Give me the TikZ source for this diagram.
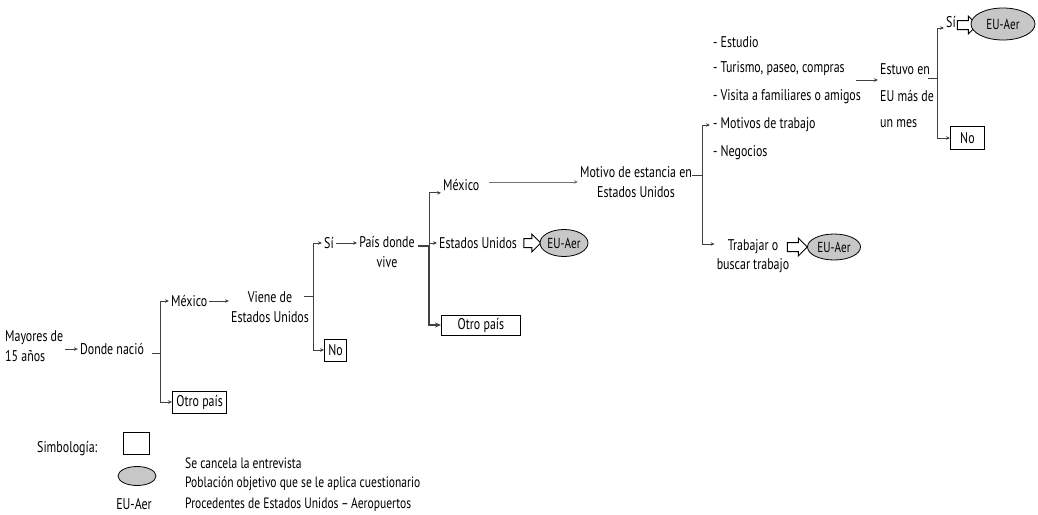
\documentclass[tikz,border=0pt]{standalone}
\usepackage{fontspec}
\setmainfont{PT Sans}[FakeStretch=0.77]
\usetikzlibrary{shapes.geometric,shapes.arrows,arrows.meta,positioning}

\newcommand\euaer{\makebox[0pt]{EU-Aer}}

\tikzset{
  txt/.style={inner sep=2pt, font=\fontsize{15.5}{19.5}\selectfont},
  cancel/.style={txt, draw, line width=0.9pt, minimum height=22pt, inner xsep=4pt},
  target/.style={ellipse, draw, line width=0.8pt, fill=black!22, inner sep=0pt, font=\fontsize{14.5}{16}\selectfont},
  hollow/.style={single arrow, draw, line width=1pt, fill=white, inner sep=4pt, minimum width=17pt, single arrow head extend=4.5pt},
  link/.style={draw=black!75, line width=0.8pt},
  go/.style={link, -{Stealth[length=4pt,width=3.5pt]}},
}

\begin{document}
\begin{tikzpicture}[x=1pt,y=-1pt]
\useasboundingbox (0,0) rectangle (1038,514);

% donde nacio
\node[txt, align=left, anchor=west] (may) at (3,346) {Mayores de\\15 años};
\node[txt] (donde) at (112,349) {Donde nació};
\draw[go] (may.east |- donde) -- (donde);

\coordinate (b1) at (160,353);
\node[txt, anchor=west] (mex1) at (169,301) {México};
\node[cancel, anchor=west] (otro1) at (172,402) {Otro país};
\draw[link] ([xshift=-8pt]b1) -- (b1);
\draw[go] (b1) |- (mex1);
\draw[go] (b1) |- (otro1);

% viene de EU
\node[txt, align=center] (viene) at (270,307) {Viene de\\Estados Unidos};
\draw[go] (mex1) -- (mex1 -| viene.west);

\coordinate (b2) at (313,296);
\node[txt, anchor=west] (si1) at (322,243) {Sí};
\node[cancel, anchor=west] (no1) at (324,350) {No};
\draw[link] ([xshift=-9pt]b2) -- (b2);
\draw[go] (b2) |- (si1);
\draw[go] (b2) |- (no1);

% pais donde vive
\node[txt, align=center] (pais) at (387,252) {País donde\\vive};
\draw[go] (si1) -- (si1 -| pais.west);

\coordinate (b3) at (429,246);
\node[txt, anchor=west] (mex2) at (441,185) {México};
\node[txt, anchor=west] (eu) at (437,243) {Estados Unidos};
\node[cancel, anchor=west, minimum width=79pt, minimum height=20pt] (otro2) at (441,325) {Otro país};
\draw[link, line width=1.6pt] ([xshift=-11pt]b3) -- (b3);
\draw[go] (b3) |- (mex2.south west);
\draw[go] (b3 |- eu) -- (eu);
\draw[link, line width=1.6pt, -{Stealth[length=6pt,width=5pt]}] (b3) |- (otro2);

\node[hollow, minimum height=17pt] (ba1) at (530,243) {};
\node[target, minimum width=48pt, minimum height=27pt] (eu1) at (564,243) {\euaer};

% motivo de estancia
\node[txt, align=center] (motivo) at (636,182) {Motivo de estancia en\\Estados Unidos};
\draw[go, draw=black!55] ([xshift=8pt]motivo.west -| mex2.east) -- (motivo.west);

\coordinate (b4) at (702,175);
\foreach \name/\y/\t in {est/42/Estudio, tur/69/{Turismo, paseo, compras},
    vis/97/Visita a familiares o amigos, mot/125/Motivos de trabajo, neg/153/Negocios}
  \node[txt, anchor=west] (\name) at (711,\y) {- \t};
\node[txt, align=center] (trab) at (753,256) {Trabajar o\\buscar trabajo};
\draw[link] ([xshift=-10pt]b4) -- (b4);
\draw[go] (b4) |- ([xshift=-1pt]mot.west);
\draw[go] (b4) |- ([yshift=12pt]trab.west);

\node[hollow, minimum height=20pt] (ba2) at (795,247) {};
\node[target, minimum width=53pt, minimum height=26pt] (eu2) at (834,247) {\euaer};

% estuvo en EU
\node[txt, align=left, anchor=west, font=\fontsize{15.5}{26.5}\selectfont] (estuvo) at (878,96) {Estuvo en\\EU más de\\un mes};
\coordinate (lo) at (856,80);
\draw[go] (lo) -- (lo -| estuvo.west);

\coordinate (b5) at (937,78);
\node[txt, anchor=west] (si2) at (944,22) {Sí};
\node[cancel, anchor=west, minimum width=34pt, minimum height=23pt] (no2) at (950,138) {No};
\draw[link] ([xshift=-9pt]b5) -- (b5);
\draw[go] (b5) |- ([yshift=-6pt]si2.west);
\draw[go] (b5) |- (no2);

\node[hollow, minimum height=20pt] (ba3) at (965,25) {};
\node[target, minimum width=64pt, minimum height=32pt] (eu3) at (1003,24) {\euaer};

% simbologia
\node[txt, anchor=west] (simb) at (35,449) {Simbología:};
\node[cancel, minimum width=26pt, minimum height=22pt] (legbox) at (136,443) {};
\node[target, minimum width=38pt, minimum height=19pt] (legell) at (137,476) {};
\node[txt] (legeu) at (134,504) {EU-Aer};
\node[txt, anchor=west, font=\fontsize{15}{18}\selectfont] (leg1) at (183,463) {Se cancela la entrevista};
\node[txt, anchor=west, font=\fontsize{15}{18}\selectfont] (leg2) at (183,484) {Población objetivo que se le aplica cuestionario};
\node[txt, anchor=west, font=\fontsize{15}{18}\selectfont] (leg3) at (183,505) {Procedentes de Estados Unidos\,–\,Aeropuertos};
\end{tikzpicture}
\end{document}
